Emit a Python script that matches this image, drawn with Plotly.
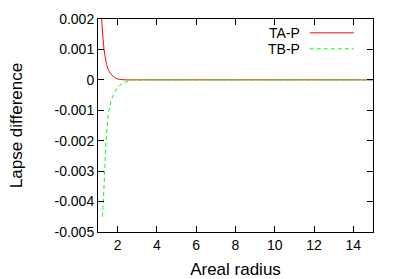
import plotly.graph_objects as go

# Data
ta_x = [1.10, 1.15, 1.19, 1.25, 1.31, 1.38, 1.44, 1.52, 1.65, 1.80, 2.0, 2.2, 2.5, 3, 4, 5, 6, 7, 8, 9, 10, 11, 12, 13, 14, 15]
ta_y = [0.0035, 0.0027, 0.0020, 0.0014, 0.0010, 0.0007, 0.0005, 0.00035, 0.0002, 0.0001, 0.00003, 0.00001, 0, 0, 0, 0, 0, 0, 0, 0, 0, 0, 0, 0, 0, 0]
tb_x = [1.22, 1.27, 1.34, 1.41, 1.56, 1.78, 2.08, 2.4, 2.78, 3, 4, 5, 6, 7, 8, 9, 10, 11, 12, 13, 14, 15]
tb_y = [-0.0045, -0.0040, -0.0030, -0.0020, -0.0010, -0.0005, -0.0002, -0.00007, 0, 0, 0, 0, 0, 0, 0, 0, 0, 0, 0, 0, 0, 0]

x_ticks = [2, 4, 6, 8, 10, 12, 14]
y_ticks = [0.002, 0.001, 0, -0.001, -0.002, -0.003, -0.004, -0.005]
y_ticktext = ["0.002", "0.001", "0", "-0.001", "-0.002", "-0.003", "-0.004", "-0.005"]
series_names = ["TA-P", "TB-P"]
colors = ["#ff0000", "#00ff00"]

fig = go.Figure()
fig.add_trace(go.Scatter(x=ta_x, y=ta_y, mode="lines", name=series_names[0],
                         line=dict(color=colors[0], width=1, shape="spline"), showlegend=False))
fig.add_trace(go.Scatter(x=tb_x, y=tb_y, mode="lines", name=series_names[1],
                         line=dict(color=colors[1], width=1, dash="4px,3px", shape="spline"), showlegend=False))

font = dict(family="Liberation Sans, Arial, sans-serif", size=14, color="black")

# gnuplot-style legend: text then line sample
leg_y = [0.935, 0.86]
for i, name in enumerate(series_names):
    fig.add_annotation(xref="paper", yref="paper", x=0.74, y=leg_y[i], text=name,
                       showarrow=False, xanchor="right", yanchor="middle", font=font)
    fig.add_shape(type="line", xref="paper", yref="paper", x0=0.77, x1=0.93,
                  y0=leg_y[i], y1=leg_y[i],
                  line=dict(color=colors[i], width=1, dash="solid" if i == 0 else "4px,3px"))

fig.update_layout(
    width=399, height=279,
    margin=dict(l=98, r=26, t=19, b=47, autoexpand=False),
    paper_bgcolor="white", plot_bgcolor="white",
    font=font,
    xaxis=dict(range=[1, 15], tickvals=x_ticks, ticks="inside", ticklen=6, tickwidth=1,
               tickcolor="black", showline=True, linecolor="black", linewidth=1, mirror="ticks",
               showgrid=False, zeroline=False, title=dict(text="Areal radius", standoff=14),
               tickfont=font, automargin=False),
    yaxis=dict(range=[-0.005, 0.002], tickvals=y_ticks, ticktext=y_ticktext, ticks="inside",
               ticklen=6, tickwidth=1, tickcolor="black", showline=True, linecolor="black",
               linewidth=1, mirror="ticks", showgrid=False, zeroline=False,
               title=dict(text="Lapse difference", standoff=27), tickfont=font,
               automargin=False),
)

fig.write_html("out.html", post_script="document.body.style.margin='0';",
               config={"displayModeBar": False})
